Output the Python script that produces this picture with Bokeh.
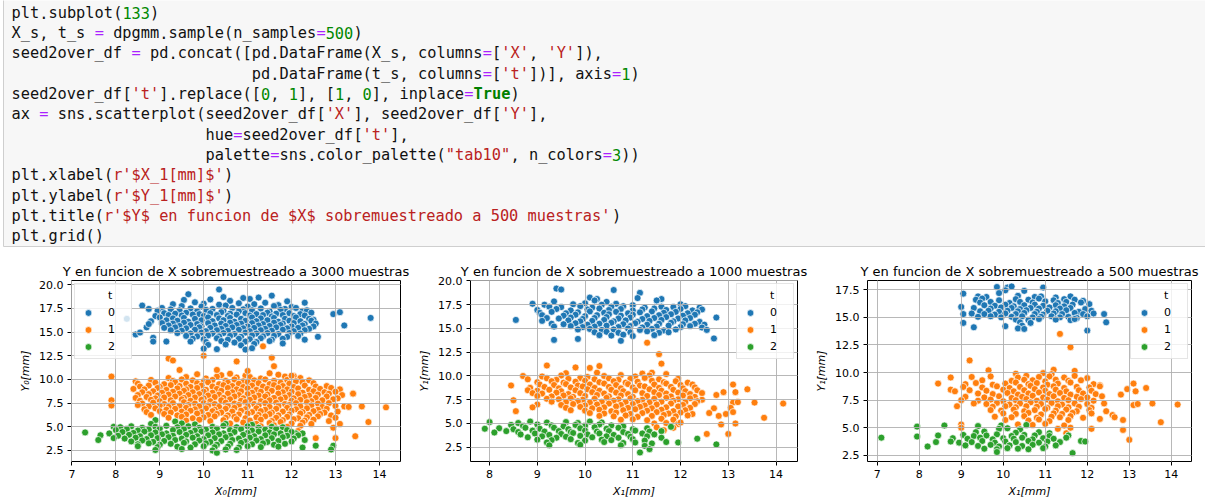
import re

from bokeh.core.properties import value
from bokeh.embed import file_html
from bokeh.layouts import column, row
from bokeh.models import (ColumnDataSource, FixedTicker, Legend, LegendItem,
                          PrintfTickFormatter, Range1d)
from bokeh.plotting import figure
from bokeh.resources import INLINE

# ---------------------------------------------------------------- notebook cell
CODE_LINES = [
    "plt.subplot(133)",
    "X_s, t_s = dpgmm.sample(n_samples=500)",
    "seed2over_df = pd.concat([pd.DataFrame(X_s, columns=['X', 'Y']),",
    "                          pd.DataFrame(t_s, columns=['t'])], axis=1)",
    "seed2over_df['t'].replace([0, 1], [1, 0], inplace=True)",
    "ax = sns.scatterplot(seed2over_df['X'], seed2over_df['Y'],",
    "                     hue=seed2over_df['t'],",
    "                     palette=sns.color_palette(\"tab10\", n_colors=3))",
    "plt.xlabel(r'$X_1[mm]$')",
    "plt.ylabel(r'$Y_1[mm]$')",
    "plt.title(r'$Y$ en funcion de $X$ sobremuestreado a 500 muestras')",
    "plt.grid()",
]

# ---------------------------------------------------------------- samples
CLASS_LABELS = ["0", "1", "2"]
PALETTE = ["#1f77b4", "#ff7f0e", "#2ca02c"]

TITLES = [
    "Y en funcion de X sobremuestreado a 3000 muestras",
    "Y en funcion de X sobremuestreado a 1000 muestras",
    "Y en funcion de X sobremuestreado a 500 muestras",
]
X_LABELS = ["X₀[mm]", "X₁[mm]", "X₁[mm]"]
Y_LABELS = ["Y₀[mm]", "Y₁[mm]", "Y₁[mm]"]
X_TICKS = [[7, 8, 9, 10, 11, 12, 13, 14],
           [8, 9, 10, 11, 12, 13, 14],
           [7, 8, 9, 10, 11, 12, 13, 14]]
Y_TICKS = [[2.5, 5.0, 7.5, 10.0, 12.5, 15.0, 17.5, 20.0],
           [2.5, 5.0, 7.5, 10.0, 12.5, 15.0, 17.5, 20.0],
           [2.5, 5.0, 7.5, 10.0, 12.5, 15.0, 17.5]]
X_LIMITS = [(6.99, 14.48), (7.6, 14.45), (6.77, 14.48)]
Y_LIMITS = [(1.33, 20.45), (1.0, 20.05), (1.94, 18.34)]

# 3000 samples: class 0
BLUE_3000 = [
    (10.35, 19.5), (9.65, 19.0), (11.55, 18.85), (10.45, 18.7), (10.9, 18.6), (11.25, 18.65),
    (9.55, 18.4), (10.15, 18.45), (11.05, 18.5), (11.9, 18.25), (9.8, 18.15), (10.6, 18.3),
    (11.4, 18.1), (12.3, 18.1), (9.3, 17.95), (10.0, 18.0), (10.35, 17.9), (10.8, 18.05),
    (11.15, 17.95), (11.7, 17.85), (8.6, 17.8), (9.5, 17.75), (9.95, 17.7), (10.5, 17.8),
    (11.0, 17.7), (11.6, 17.75), (12.0, 17.65), (8.75, 17.45), (9.05, 17.55), (9.25, 17.4),
    (9.7, 17.5), (10.2, 17.45), (10.65, 17.55), (10.9, 17.4), (11.3, 17.5), (11.85, 17.45),
    (12.1, 17.55), (8.95, 17.25), (9.45, 17.3), (9.85, 17.2), (10.05, 17.35), (10.45, 17.25),
    (10.8, 17.2), (11.1, 17.3), (11.5, 17.2), (11.75, 17.35), (12.25, 17.2), (12.35, 17.3),
    (9.1, 17.0), (9.35, 16.95), (9.6, 17.05), (9.9, 16.9), (10.15, 17.0), (10.4, 17.1),
    (10.6, 16.95), (10.95, 17.0), (11.2, 16.9), (11.45, 17.05), (11.65, 16.95), (11.95, 17.0),
    (12.2, 16.9), (12.45, 17.05), (8.9, 16.7), (9.2, 16.8), (9.5, 16.75), (9.75, 16.85),
    (10.0, 16.7), (10.3, 16.8), (10.55, 16.7), (10.75, 16.85), (11.05, 16.75), (11.35, 16.8),
    (11.55, 16.65), (11.8, 16.8), (12.05, 16.7), (12.3, 16.75), (8.25, 16.4), (9.0, 16.55),
    (9.3, 16.45), (9.55, 16.5), (9.8, 16.4), (10.1, 16.55), (10.35, 16.45), (10.6, 16.5),
    (10.85, 16.4), (11.1, 16.55), (11.3, 16.45), (11.6, 16.5), (11.85, 16.4), (12.1, 16.55),
    (12.4, 16.4), (12.5, 16.3), (8.8, 16.15), (9.15, 16.25), (9.4, 16.2), (9.65, 16.1),
    (9.95, 16.25), (10.2, 16.15), (10.45, 16.25), (10.7, 16.1), (10.95, 16.2), (11.2, 16.15),
    (11.45, 16.25), (11.7, 16.1), (11.95, 16.2), (12.2, 16.15), (12.45, 16.2), (9.05, 15.95),
    (9.3, 15.9), (9.55, 16.0), (9.85, 15.85), (10.1, 15.95), (10.4, 15.9), (10.6, 16.0),
    (10.85, 15.9), (11.1, 15.95), (11.35, 15.85), (11.6, 16.0), (11.8, 15.9), (12.05, 15.95),
    (12.3, 15.85), (12.55, 15.9), (8.7, 15.5), (8.75, 15.85), (9.2, 15.7), (9.45, 15.65),
    (9.7, 15.75), (9.95, 15.6), (10.25, 15.7), (10.5, 15.65), (10.75, 15.75), (11.0, 15.6),
    (11.25, 15.7), (11.5, 15.65), (11.75, 15.75), (12.0, 15.6), (12.25, 15.7), (12.5, 15.6),
    (9.1, 15.45), (9.35, 15.5), (9.6, 15.4), (9.9, 15.5), (10.15, 15.45), (10.4, 15.35),
    (10.65, 15.5), (10.9, 15.4), (11.15, 15.45), (11.4, 15.35), (11.65, 15.5), (11.9, 15.4),
    (12.15, 15.45), (12.4, 15.35), (9.25, 15.2), (9.5, 15.15), (9.8, 15.25), (10.05, 15.1),
    (10.3, 15.2), (10.55, 15.15), (10.8, 15.25), (11.05, 15.1), (11.3, 15.2), (11.55, 15.15),
    (11.8, 15.25), (12.05, 15.1), (12.3, 15.2), (8.45, 14.75), (8.55, 14.95), (9.4, 14.9),
    (9.7, 14.85), (9.95, 14.95), (10.2, 14.85), (10.45, 14.9), (10.7, 14.8), (10.95, 14.95),
    (11.2, 14.85), (11.45, 14.9), (11.7, 14.8), (11.95, 14.9), (12.2, 14.85), (9.6, 14.6),
    (9.85, 14.55), (10.1, 14.65), (10.35, 14.55), (10.6, 14.6), (10.85, 14.5), (11.1, 14.65),
    (11.35, 14.55), (11.6, 14.6), (11.9, 14.5), (12.15, 14.6), (12.6, 14.5), (8.85, 14.4),
    (9.75, 14.3), (10.0, 14.25), (10.3, 14.35), (10.55, 14.2), (10.8, 14.3), (11.05, 14.25),
    (11.3, 14.35), (11.55, 14.2), (11.8, 14.3), (8.85, 14.0), (9.15, 14.0), (9.7, 14.0),
    (10.05, 13.95), (10.4, 14.05), (10.7, 13.9), (10.95, 14.0), (11.2, 13.95), (11.5, 14.05),
    (12.3, 14.2), (10.1, 13.65), (10.5, 13.7), (10.85, 13.6), (11.15, 13.75), (11.8, 13.8),
    (10.0, 13.25), (10.3, 13.2), (10.95, 13.15), (11.1, 13.3), (12.95, 16.9), (13.1, 17.1),
    (13.2, 15.7), (13.8, 16.5),
]

# 3000 samples: class 1
ORANGE_3000 = [
    (9.85, 10.55), (10.4, 10.45), (10.6, 10.6), (10.95, 10.4), (11.5, 10.65), (11.7, 10.5),
    (12.05, 10.35), (9.2, 10.15), (9.6, 10.25), (10.05, 10.1), (10.3, 10.3), (10.75, 10.2),
    (11.05, 10.25), (11.3, 10.1), (11.85, 10.3), (12.2, 10.15), (8.45, 9.8), (8.8, 9.95),
    (9.3, 9.85), (9.5, 10.0), (9.75, 9.9), (10.0, 9.8), (10.2, 9.95), (10.5, 9.85),
    (10.7, 10.0), (10.9, 9.8), (11.15, 9.9), (11.4, 10.0), (11.6, 9.85), (11.9, 9.95),
    (12.1, 9.8), (12.4, 9.9), (8.5, 9.55), (8.9, 9.65), (9.1, 9.5), (9.35, 9.7),
    (9.6, 9.55), (9.85, 9.6), (10.1, 9.7), (10.35, 9.5), (10.55, 9.65), (10.8, 9.55),
    (11.0, 9.7), (11.25, 9.6), (11.5, 9.5), (11.75, 9.65), (11.95, 9.55), (12.25, 9.7),
    (12.5, 9.6), (8.55, 9.25), (8.75, 9.35), (9.0, 9.2), (9.25, 9.4), (9.45, 9.3),
    (9.7, 9.2), (9.95, 9.35), (10.2, 9.25), (10.45, 9.4), (10.65, 9.3), (10.9, 9.2),
    (11.1, 9.35), (11.35, 9.25), (11.6, 9.4), (11.8, 9.3), (12.05, 9.2), (12.3, 9.35),
    (12.55, 9.25), (12.8, 9.3), (8.4, 9.0), (8.65, 8.95), (8.95, 9.1), (9.15, 8.9),
    (9.4, 9.05), (9.6, 8.95), (9.85, 9.1), (10.05, 8.9), (10.3, 9.0), (10.55, 9.1),
    (10.75, 8.95), (11.0, 9.05), (11.2, 8.9), (11.45, 9.0), (11.7, 9.1), (11.9, 8.95),
    (12.15, 9.05), (12.4, 8.9), (12.65, 9.0), (12.9, 9.1), (13.1, 8.95), (8.6, 8.65),
    (8.85, 8.75), (9.05, 8.6), (9.3, 8.7), (9.55, 8.8), (9.75, 8.65), (10.0, 8.7),
    (10.2, 8.6), (10.4, 8.8), (10.65, 8.65), (10.85, 8.75), (11.1, 8.6), (11.3, 8.7),
    (11.55, 8.8), (11.8, 8.65), (12.0, 8.7), (12.25, 8.6), (12.5, 8.75), (12.75, 8.65),
    (13.0, 8.7), (13.4, 8.55), (8.5, 8.35), (8.75, 8.45), (8.95, 8.3), (9.2, 8.4),
    (9.45, 8.5), (9.65, 8.35), (9.9, 8.45), (10.1, 8.3), (10.35, 8.4), (10.55, 8.5),
    (10.8, 8.35), (11.0, 8.45), (11.25, 8.3), (11.45, 8.4), (11.7, 8.5), (11.95, 8.35),
    (12.15, 8.45), (12.4, 8.3), (12.6, 8.4), (12.85, 8.5), (13.15, 8.35), (8.45, 8.05),
    (8.7, 8.15), (8.9, 8.0), (9.1, 8.1), (9.35, 8.2), (9.55, 8.05), (9.8, 8.1),
    (10.0, 8.0), (10.25, 8.15), (10.45, 8.05), (10.7, 8.2), (10.9, 8.0), (11.15, 8.1),
    (11.4, 8.2), (11.6, 8.05), (11.85, 8.1), (12.05, 8.0), (12.3, 8.15), (12.55, 8.05),
    (12.8, 8.2), (13.05, 8.0), (7.9, 7.8), (8.55, 7.75), (8.8, 7.85), (9.0, 7.7),
    (9.25, 7.8), (9.5, 7.9), (9.7, 7.75), (9.95, 7.85), (10.15, 7.7), (10.4, 7.8),
    (10.6, 7.9), (10.85, 7.75), (11.05, 7.85), (11.3, 7.7), (11.5, 7.8), (11.75, 7.9),
    (12.0, 7.75), (12.2, 7.85), (12.45, 7.7), (12.7, 7.8), (12.95, 7.9), (8.6, 7.45),
    (8.85, 7.55), (9.1, 7.4), (9.3, 7.5), (9.55, 7.6), (9.8, 7.45), (10.0, 7.5),
    (10.25, 7.4), (10.5, 7.55), (10.7, 7.45), (10.95, 7.6), (11.15, 7.4), (11.4, 7.5),
    (11.65, 7.55), (11.85, 7.4), (12.1, 7.5), (12.35, 7.6), (12.6, 7.45), (12.85, 7.5),
    (7.9, 7.25), (8.5, 7.3), (8.75, 7.15), (9.0, 7.25), (9.2, 7.1), (9.45, 7.2),
    (9.65, 7.3), (9.9, 7.15), (10.1, 7.25), (10.35, 7.1), (10.55, 7.2), (10.8, 7.3),
    (11.0, 7.15), (11.25, 7.25), (11.5, 7.1), (11.7, 7.2), (11.95, 7.3), (12.2, 7.15),
    (12.45, 7.25), (12.7, 7.1), (13.0, 7.2), (13.2, 7.15), (13.3, 7.1), (13.6, 7.15),
    (14.15, 7.05), (8.65, 6.85), (8.9, 6.95), (9.15, 6.8), (9.35, 6.9), (9.6, 7.0),
    (9.8, 6.85), (10.05, 6.95), (10.25, 6.8), (10.5, 6.9), (10.7, 7.0), (10.95, 6.85),
    (11.2, 6.95), (11.4, 6.8), (11.65, 6.9), (11.9, 7.0), (12.1, 6.85), (12.35, 6.95),
    (12.6, 6.8), (12.8, 6.9), (8.7, 6.55), (9.0, 6.65), (9.25, 6.5), (9.5, 6.6),
    (9.7, 6.7), (9.95, 6.55), (10.2, 6.65), (10.4, 6.5), (10.65, 6.6), (10.85, 6.7),
    (11.1, 6.55), (11.3, 6.65), (11.55, 6.5), (11.8, 6.6), (12.0, 6.7), (12.25, 6.55),
    (12.5, 6.65), (12.75, 6.5), (13.05, 6.6), (8.8, 6.25), (9.1, 6.35), (9.4, 6.2),
    (9.6, 6.3), (9.85, 6.4), (10.1, 6.25), (10.3, 6.35), (10.55, 6.2), (10.8, 6.3),
    (11.0, 6.4), (11.25, 6.25), (11.5, 6.35), (11.7, 6.2), (11.95, 6.3), (12.2, 6.4),
    (12.4, 6.25), (12.65, 6.35), (12.9, 6.2), (9.2, 5.95), (9.5, 6.05), (9.75, 5.9),
    (10.0, 6.0), (10.25, 6.1), (10.5, 5.95), (10.7, 6.05), (10.95, 5.9), (11.2, 6.0),
    (11.4, 6.1), (11.65, 5.95), (11.9, 6.05), (12.15, 5.9), (12.35, 6.0), (12.6, 6.1),
    (13.0, 5.95), (9.6, 5.65), (9.9, 5.75), (10.15, 5.6), (10.45, 5.7), (10.75, 5.8),
    (11.05, 5.65), (11.3, 5.75), (11.55, 5.6), (11.8, 5.7), (12.05, 5.8), (12.3, 5.65),
    (12.5, 5.75), (12.85, 5.6), (10.6, 5.35), (10.9, 5.45), (11.2, 5.3), (11.5, 5.4),
    (11.75, 5.5), (12.0, 5.35), (12.25, 5.45), (12.45, 5.3), (13.1, 5.3), (13.75, 5.5),
    (11.3, 5.05), (11.6, 5.15), (11.9, 5.0), (12.2, 5.1), (12.95, 4.9), (11.85, 4.7),
    (12.15, 4.55), (7.9, 10.3), (9.2, 12.2), (9.3, 12.0), (10.0, 12.5), (10.75, 11.9),
    (11.55, 12.3), (11.6, 11.4), (11.35, 13.5), (9.45, 11.0), (10.3, 11.0), (11.0, 10.9),
    (12.0, 10.4), (12.55, 3.8), (13.0, 3.8), (13.45, 4.0), (13.4, 8.5),
]

# 3000 samples: class 2
GREEN_3000 = [
    (8.9, 5.7), (9.35, 5.55), (8.8, 5.3), (9.5, 5.35), (9.8, 5.25), (10.5, 5.3),
    (11.1, 5.2), (7.95, 5.0), (8.1, 4.95), (8.35, 5.05), (8.6, 4.9), (8.9, 5.0),
    (9.15, 5.1), (9.4, 4.95), (9.65, 5.05), (9.9, 4.9), (10.2, 5.0), (10.45, 5.1),
    (10.75, 4.95), (11.0, 5.05), (11.25, 4.9), (11.55, 5.0), (11.8, 4.95), (8.0, 4.65),
    (8.25, 4.75), (8.5, 4.6), (8.75, 4.7), (9.0, 4.8), (9.3, 4.65), (9.55, 4.75),
    (9.8, 4.6), (10.05, 4.7), (10.3, 4.8), (10.6, 4.65), (10.85, 4.75), (11.1, 4.6),
    (11.4, 4.7), (11.65, 4.8), (11.9, 4.65), (12.1, 4.3), (7.3, 4.4), (7.85, 4.3),
    (8.15, 4.45), (8.4, 4.35), (8.65, 4.5), (8.9, 4.4), (9.15, 4.3), (9.45, 4.45),
    (9.7, 4.35), (9.95, 4.5), (10.2, 4.4), (10.45, 4.3), (10.7, 4.45), (11.0, 4.35),
    (11.25, 4.5), (11.5, 4.4), (11.75, 4.3), (12.0, 4.45), (12.25, 4.3), (7.65, 4.1),
    (8.05, 4.05), (8.3, 4.15), (8.55, 4.0), (8.8, 4.1), (9.05, 4.2), (9.3, 4.05),
    (9.6, 4.15), (9.85, 4.0), (10.1, 4.1), (10.35, 4.2), (10.6, 4.05), (10.9, 4.15),
    (11.15, 4.0), (11.4, 4.1), (11.6, 4.2), (11.9, 4.05), (12.15, 4.1), (7.95, 3.8),
    (8.2, 3.75), (8.45, 3.85), (8.7, 3.7), (8.95, 3.8), (9.2, 3.9), (9.5, 3.75),
    (9.75, 3.85), (10.0, 3.7), (10.25, 3.8), (10.5, 3.9), (10.8, 3.75), (11.05, 3.85),
    (11.3, 3.7), (11.55, 3.8), (11.8, 3.9), (12.05, 3.75), (12.3, 3.6), (7.6, 3.6),
    (8.35, 3.45), (8.6, 3.55), (8.85, 3.4), (9.1, 3.5), (9.35, 3.6), (9.6, 3.45),
    (9.9, 3.55), (10.15, 3.4), (10.4, 3.5), (10.65, 3.6), (10.95, 3.45), (11.2, 3.55),
    (11.45, 3.4), (11.7, 3.5), (12.0, 3.45), (8.5, 3.15), (8.75, 3.25), (9.0, 3.1),
    (9.25, 3.2), (9.55, 3.3), (9.8, 3.15), (10.05, 3.25), (10.3, 3.1), (10.6, 3.2),
    (10.85, 3.3), (11.1, 3.15), (11.35, 3.25), (11.6, 3.1), (11.85, 3.2), (8.5, 2.95),
    (8.95, 2.85), (9.4, 2.9), (9.7, 2.8), (10.0, 2.95), (10.25, 2.85), (10.55, 2.9),
    (10.8, 2.8), (11.0, 2.95), (11.3, 2.85), (11.7, 2.9), (12.25, 2.8), (12.55, 3.0),
    (12.95, 3.0), (8.9, 2.55), (9.5, 2.65), (10.2, 2.5), (10.5, 2.6), (10.75, 2.55),
    (12.9, 2.6), (10.3, 2.25),
]

# 1000 samples: class 0
BLUE_1000 = [
    (9.4, 19.2), (9.5, 19.1), (10.6, 19.05), (11.15, 18.75), (10.1, 18.25), (10.25, 18.1),
    (11.1, 18.2), (11.6, 18.1), (9.35, 17.85), (10.2, 17.95), (10.45, 17.8), (11.5, 17.95),
    (8.9, 17.6), (9.15, 17.5), (9.75, 17.55), (10.0, 17.65), (10.35, 17.5), (10.65, 17.6),
    (11.0, 17.45), (12.0, 17.55), (9.25, 17.3), (9.5, 17.25), (9.9, 17.35), (10.15, 17.2),
    (10.55, 17.3), (10.8, 17.35), (11.25, 17.2), (11.6, 17.3), (11.85, 17.25), (12.1, 17.35),
    (12.4, 17.2), (9.0, 16.95), (9.4, 17.05), (9.7, 16.9), (10.05, 17.0), (10.3, 17.1),
    (10.5, 16.95), (10.75, 17.05), (11.0, 16.9), (11.2, 17.0), (11.45, 17.1), (11.7, 16.95),
    (12.0, 17.05), (12.25, 16.9), (12.45, 17.0), (9.05, 16.65), (9.3, 16.75), (9.6, 16.6),
    (9.85, 16.7), (10.1, 16.8), (10.4, 16.65), (10.65, 16.75), (10.9, 16.6), (11.15, 16.7),
    (11.4, 16.8), (11.65, 16.65), (11.9, 16.75), (12.15, 16.6), (12.35, 16.7), (9.1, 16.4),
    (9.55, 16.35), (9.8, 16.45), (10.0, 16.3), (10.25, 16.4), (10.5, 16.5), (10.75, 16.35),
    (11.0, 16.45), (11.3, 16.3), (11.55, 16.4), (11.8, 16.5), (12.05, 16.35), (12.3, 16.45),
    (9.2, 16.1), (9.45, 16.05), (9.7, 16.15), (9.95, 16.0), (10.2, 16.1), (10.45, 16.2),
    (10.7, 16.05), (10.95, 16.15), (11.2, 16.0), (11.45, 16.1), (11.7, 16.2), (11.95, 16.05),
    (12.2, 16.1), (12.75, 16.15), (8.55, 15.9), (9.1, 15.8), (9.65, 15.85), (9.9, 15.75),
    (10.15, 15.8), (10.4, 15.9), (10.6, 15.75), (10.85, 15.85), (11.1, 15.7), (11.35, 15.8),
    (11.6, 15.9), (11.85, 15.75), (12.1, 15.85), (12.4, 15.7), (9.3, 15.5), (9.55, 15.45),
    (9.8, 15.55), (10.05, 15.4), (10.3, 15.5), (10.55, 15.6), (10.8, 15.45), (11.05, 15.55),
    (11.3, 15.4), (11.55, 15.5), (11.8, 15.6), (12.05, 15.45), (12.3, 15.5), (12.5, 15.4),
    (9.35, 15.2), (9.7, 15.25), (9.95, 15.15), (10.2, 15.2), (10.45, 15.3), (10.7, 15.15),
    (10.95, 15.25), (11.2, 15.1), (11.5, 15.2), (11.75, 15.3), (12.0, 15.15), (12.2, 15.25),
    (12.45, 15.1), (9.85, 14.9), (10.1, 14.95), (10.35, 14.85), (10.6, 14.9), (10.9, 15.0),
    (11.15, 14.85), (11.4, 14.95), (11.65, 14.8), (11.9, 14.9), (12.55, 14.85), (10.2, 14.6),
    (10.45, 14.65), (10.7, 14.55), (10.95, 14.6), (11.3, 14.7), (11.55, 14.55), (11.75, 14.6),
    (10.3, 14.3), (10.55, 14.25), (10.8, 14.35), (11.0, 14.2), (11.45, 14.3), (9.35, 13.8),
    (9.85, 13.9), (10.75, 13.7), (12.7, 13.95),
]

# 1000 samples: class 1
ORANGE_1000 = [
    (9.2, 11.1), (9.8, 10.9), (10.1, 10.85), (10.3, 11.05), (11.6, 11.3), (9.6, 10.3),
    (10.25, 10.35), (11.2, 10.25), (11.4, 10.35), (11.7, 10.2), (8.7, 10.0), (9.1, 9.95),
    (9.5, 10.05), (10.05, 9.9), (10.4, 10.0), (10.75, 10.1), (11.05, 9.95), (11.35, 10.05),
    (8.8, 9.65), (9.2, 9.75), (9.4, 9.6), (9.65, 9.7), (9.9, 9.8), (10.2, 9.65),
    (10.5, 9.75), (10.7, 9.6), (10.95, 9.7), (11.25, 9.8), (11.55, 9.65), (11.95, 9.7),
    (9.0, 9.35), (9.3, 9.45), (9.55, 9.3), (9.8, 9.4), (10.0, 9.5), (10.3, 9.35),
    (10.6, 9.45), (10.85, 9.3), (11.1, 9.4), (11.4, 9.5), (11.65, 9.35), (11.9, 9.45),
    (12.15, 9.3), (8.45, 9.0), (9.05, 9.1), (9.35, 9.05), (9.6, 9.15), (9.85, 9.0),
    (10.1, 9.1), (10.4, 9.2), (10.65, 9.05), (10.9, 9.15), (11.15, 9.0), (11.45, 9.1),
    (11.7, 9.2), (12.0, 9.05), (12.25, 9.1), (13.1, 9.1), (8.85, 8.75), (9.15, 8.85),
    (9.45, 8.7), (9.7, 8.8), (9.95, 8.9), (10.2, 8.75), (10.5, 8.85), (10.75, 8.7),
    (11.0, 8.8), (11.25, 8.9), (11.55, 8.75), (11.8, 8.85), (12.05, 8.7), (12.3, 8.8),
    (8.8, 8.5), (9.0, 8.45), (9.25, 8.55), (9.5, 8.4), (9.8, 8.5), (10.05, 8.6),
    (10.3, 8.45), (10.55, 8.55), (10.8, 8.4), (11.05, 8.5), (11.35, 8.6), (11.6, 8.45),
    (11.85, 8.55), (12.1, 8.4), (12.35, 8.5), (12.9, 8.3), (13.4, 8.6), (8.9, 8.2),
    (9.1, 8.15), (9.4, 8.25), (9.65, 8.1), (9.9, 8.2), (10.15, 8.3), (10.4, 8.15),
    (10.65, 8.25), (10.9, 8.1), (11.2, 8.2), (11.45, 8.3), (11.7, 8.15), (11.95, 8.25),
    (12.2, 8.1), (12.45, 8.2), (13.15, 8.3), (9.0, 7.9), (9.3, 7.85), (9.55, 7.95),
    (9.75, 7.8), (10.0, 7.9), (10.25, 8.0), (10.5, 7.85), (10.75, 7.95), (11.0, 7.8),
    (11.3, 7.9), (11.55, 8.0), (11.8, 7.85), (12.05, 7.95), (12.3, 7.8), (12.75, 8.0),
    (9.2, 7.6), (9.45, 7.55), (9.7, 7.65), (9.95, 7.5), (10.2, 7.6), (10.45, 7.7),
    (10.7, 7.55), (10.95, 7.65), (11.2, 7.5), (11.45, 7.6), (11.7, 7.7), (11.95, 7.55),
    (12.2, 7.65), (12.45, 7.5), (8.5, 7.45), (9.3, 7.3), (9.6, 7.25), (9.85, 7.35),
    (10.1, 7.2), (10.35, 7.3), (10.6, 7.4), (10.85, 7.25), (11.1, 7.35), (11.35, 7.2),
    (11.6, 7.3), (11.85, 7.4), (12.1, 7.25), (12.35, 7.35), (13.1, 7.2), (13.2, 7.25),
    (13.55, 7.2), (9.0, 7.0), (9.5, 6.95), (9.75, 7.05), (10.0, 6.9), (10.25, 7.0),
    (10.5, 7.1), (10.75, 6.95), (11.0, 7.05), (11.25, 6.9), (11.5, 7.0), (11.8, 7.1),
    (12.05, 6.95), (12.3, 7.05), (14.15, 7.1), (8.9, 6.7), (9.6, 6.65), (9.9, 6.75),
    (10.15, 6.6), (10.4, 6.7), (10.65, 6.8), (10.9, 6.65), (11.15, 6.75), (11.4, 6.6),
    (11.7, 6.7), (11.95, 6.8), (12.2, 6.65), (12.7, 6.6), (13.05, 6.65), (9.7, 6.4),
    (10.0, 6.35), (10.3, 6.45), (10.55, 6.3), (10.8, 6.4), (11.05, 6.5), (11.3, 6.35),
    (11.6, 6.45), (11.85, 6.3), (12.1, 6.4), (12.6, 6.1), (8.55, 6.3), (10.1, 6.1),
    (10.4, 6.05), (10.65, 6.15), (10.95, 6.0), (11.2, 6.1), (11.5, 6.2), (11.75, 6.05),
    (12.0, 6.15), (12.25, 6.0), (12.95, 6.0), (13.1, 6.2), (10.3, 5.8), (10.6, 5.75),
    (10.85, 5.85), (11.1, 5.7), (11.4, 5.8), (11.65, 5.9), (11.9, 5.75), (12.15, 5.85),
    (12.8, 5.8), (13.75, 5.6), (10.75, 5.4), (11.0, 5.45), (11.3, 5.35), (11.6, 5.5),
    (11.85, 5.4), (11.45, 5.0), (11.7, 5.05), (11.95, 4.95), (12.0, 5.1), (12.85, 4.9),
    (13.15, 5.0), (11.5, 4.6), (11.85, 4.55), (11.65, 4.3), (12.55, 3.9), (13.0, 3.9),
    (11.3, 13.5), (11.55, 12.3),
]

# 1000 samples: class 2
GREEN_1000 = [
    (8.0, 5.15), (8.6, 5.05), (8.85, 5.2), (9.2, 5.1), (9.6, 5.15), (9.85, 5.05),
    (10.1, 5.2), (10.35, 5.1), (8.45, 4.85), (8.7, 4.75), (9.0, 4.9), (9.3, 4.8),
    (9.55, 4.7), (9.8, 4.85), (10.0, 4.75), (10.3, 4.9), (10.55, 4.8), (10.8, 4.7),
    (7.9, 4.45), (8.2, 4.5), (8.5, 4.4), (8.75, 4.55), (9.05, 4.45), (9.35, 4.55),
    (9.65, 4.4), (9.9, 4.5), (10.2, 4.6), (10.45, 4.45), (10.7, 4.55), (11.0, 4.4),
    (11.3, 4.5), (11.8, 4.65), (8.1, 4.05), (8.35, 4.2), (8.6, 4.1), (8.9, 4.25),
    (9.15, 4.15), (9.45, 4.2), (9.7, 4.1), (10.0, 4.25), (10.25, 4.15), (10.5, 4.2),
    (10.8, 4.1), (11.05, 4.25), (11.35, 4.15), (11.6, 4.2), (8.65, 3.85), (8.95, 3.95),
    (9.25, 3.8), (9.5, 3.9), (9.75, 4.0), (10.05, 3.85), (10.3, 3.95), (10.6, 3.8),
    (10.9, 3.9), (11.2, 3.95), (11.45, 3.85), (8.8, 3.55), (9.1, 3.65), (9.4, 3.5),
    (9.6, 3.6), (9.9, 3.7), (10.15, 3.55), (10.45, 3.65), (10.7, 3.5), (10.95, 3.6),
    (11.3, 3.65), (11.6, 3.5), (9.0, 3.3), (9.3, 3.25), (9.7, 3.35), (10.0, 3.2),
    (10.35, 3.3), (10.55, 3.25), (11.0, 3.35), (11.25, 3.2), (12.35, 3.4), (9.2, 3.0),
    (9.85, 2.95), (10.4, 3.05), (10.8, 2.95), (11.05, 3.0), (11.4, 2.9), (11.7, 3.05),
    (11.95, 3.0), (9.25, 2.7), (9.9, 2.75), (10.75, 2.7), (11.25, 2.65), (12.75, 2.8),
    (11.35, 2.3), (11.15, 1.95),
]

# 500 samples: class 0
BLUE_500 = [
    (9.85, 17.75), (10.1, 17.7), (10.2, 17.8), (10.95, 17.7), (10.05, 17.45), (10.5, 17.4),
    (9.05, 17.15), (9.9, 17.2), (9.4, 16.9), (9.6, 16.85), (10.35, 16.95), (10.75, 16.85),
    (10.9, 16.9), (11.25, 16.8), (11.6, 16.9), (9.35, 16.6), (9.5, 16.7), (9.9, 16.55),
    (10.3, 16.65), (10.6, 16.6), (10.85, 16.7), (11.2, 16.55), (11.45, 16.65), (11.7, 16.6),
    (11.9, 16.5), (9.45, 16.35), (9.7, 16.4), (10.15, 16.3), (10.4, 16.4), (10.7, 16.35),
    (11.0, 16.45), (11.3, 16.3), (11.5, 16.4), (11.85, 16.35), (9.55, 16.1), (9.8, 16.05),
    (10.05, 16.15), (10.25, 16.0), (10.5, 16.1), (10.75, 16.15), (10.95, 16.05), (11.25, 16.1),
    (11.45, 16.0), (11.65, 16.15), (12.05, 16.2), (9.0, 15.95), (9.3, 15.85), (9.7, 15.8),
    (9.95, 15.9), (10.2, 15.85), (10.4, 15.75), (10.65, 15.85), (10.85, 15.8), (11.1, 15.9),
    (11.35, 15.8), (11.6, 15.85), (11.95, 15.75), (9.45, 15.55), (9.65, 15.6), (9.9, 15.5),
    (10.1, 15.6), (10.35, 15.55), (10.55, 15.65), (10.8, 15.5), (11.05, 15.6), (11.25, 15.55),
    (11.5, 15.65), (11.8, 15.5), (12.1, 15.6), (9.05, 15.3), (9.25, 15.35), (9.55, 15.3),
    (9.8, 15.25), (10.05, 15.35), (10.3, 15.3), (10.5, 15.4), (10.75, 15.3), (10.95, 15.25),
    (11.2, 15.35), (11.4, 15.3), (11.7, 15.4), (11.9, 15.3), (12.15, 15.35), (12.4, 15.3),
    (9.4, 15.05), (9.7, 15.1), (9.95, 15.0), (10.2, 15.05), (10.45, 15.1), (10.7, 15.0),
    (10.9, 15.05), (11.15, 15.1), (11.35, 15.0), (11.55, 15.05), (11.75, 14.95), (12.0, 15.1),
    (10.3, 14.8), (10.6, 14.75), (10.85, 14.85), (11.25, 14.8), (11.6, 14.75), (11.7, 14.85),
    (9.05, 14.5), (10.4, 14.55), (10.65, 14.5), (12.45, 14.55), (9.3, 14.1), (10.05, 14.2),
    (10.45, 14.25), (10.35, 14.0), (10.5, 13.95), (12.0, 13.8),
]

# 500 samples: class 1
ORANGE_500 = [
    (9.65, 10.2), (11.2, 10.25), (11.7, 10.15), (10.3, 9.9), (10.95, 9.95), (11.15, 9.85),
    (8.75, 9.55), (9.25, 9.6), (9.7, 9.65), (10.35, 9.55), (10.55, 9.7), (10.85, 9.6),
    (11.1, 9.65), (11.45, 9.55), (11.7, 9.7), (12.0, 9.5), (9.5, 9.3), (10.2, 9.25),
    (10.5, 9.35), (10.7, 9.3), (11.0, 9.2), (11.25, 9.35), (11.55, 9.25), (11.85, 9.3),
    (8.45, 9.0), (9.1, 8.95), (9.35, 9.05), (9.75, 8.9), (10.05, 9.0), (10.3, 9.1),
    (10.6, 8.95), (10.8, 9.05), (11.05, 8.9), (11.3, 9.0), (11.6, 9.1), (12.15, 8.95),
    (12.3, 8.85), (13.1, 9.0), (9.05, 8.7), (9.5, 8.65), (9.85, 8.75), (10.15, 8.6),
    (10.4, 8.7), (10.65, 8.8), (10.95, 8.65), (11.2, 8.75), (11.45, 8.6), (11.75, 8.7),
    (12.05, 8.65), (12.3, 8.75), (8.75, 8.45), (8.85, 8.3), (9.2, 8.4), (9.6, 8.35),
    (10.0, 8.45), (10.25, 8.3), (10.5, 8.4), (10.75, 8.5), (11.0, 8.35), (11.25, 8.45),
    (11.5, 8.3), (11.8, 8.4), (12.1, 8.35), (12.95, 8.5), (13.15, 8.3), (13.4, 8.6),
    (9.4, 8.1), (9.75, 8.05), (10.1, 8.15), (10.35, 8.0), (10.6, 8.1), (10.85, 8.2),
    (11.1, 8.05), (11.35, 8.15), (11.6, 8.0), (11.9, 8.1), (12.2, 8.05), (12.8, 8.0),
    (9.1, 7.8), (9.55, 7.75), (9.9, 7.85), (10.2, 7.7), (10.45, 7.8), (10.7, 7.9),
    (10.95, 7.75), (11.2, 7.85), (11.45, 7.7), (11.75, 7.8), (12.0, 7.75), (12.35, 7.85),
    (9.0, 7.5), (9.4, 7.45), (9.7, 7.55), (10.0, 7.4), (10.3, 7.5), (10.55, 7.6),
    (10.8, 7.45), (11.05, 7.55), (11.3, 7.4), (11.55, 7.5), (11.85, 7.6), (12.15, 7.45),
    (9.3, 7.2), (9.6, 7.15), (9.85, 7.25), (10.15, 7.1), (10.4, 7.2), (10.65, 7.3),
    (10.9, 7.15), (11.15, 7.25), (11.4, 7.1), (11.7, 7.2), (12.0, 7.15), (12.4, 7.2),
    (13.1, 7.05), (13.2, 7.15), (13.55, 7.2), (14.15, 7.1), (8.9, 6.95), (9.75, 6.9),
    (10.05, 6.95), (10.3, 6.85), (10.55, 6.95), (10.8, 6.9), (11.05, 6.8), (11.3, 6.95),
    (11.55, 6.85), (11.8, 6.9), (12.1, 6.8), (9.7, 6.6), (9.95, 6.55), (10.25, 6.65),
    (10.5, 6.5), (10.75, 6.6), (11.0, 6.7), (11.25, 6.55), (11.5, 6.65), (11.75, 6.5),
    (12.05, 6.6), (12.45, 6.5), (10.0, 6.3), (10.3, 6.25), (10.6, 6.35), (10.9, 6.2),
    (11.2, 6.3), (11.4, 6.25), (11.65, 6.35), (12.1, 6.3), (12.6, 6.15), (9.8, 6.0),
    (10.2, 5.95), (10.5, 6.05), (10.8, 5.9), (11.15, 6.0), (11.35, 5.95), (11.6, 6.05),
    (11.9, 5.9), (12.3, 5.8), (12.65, 5.95), (10.05, 5.7), (10.6, 5.65), (10.85, 5.75),
    (11.1, 5.6), (11.55, 5.7), (12.85, 5.7), (9.0, 5.3), (10.35, 5.3), (10.7, 5.25),
    (11.0, 5.35), (11.45, 5.2), (13.75, 5.5), (9.0, 5.0), (11.3, 4.9), (11.6, 5.0),
    (12.1, 4.9), (12.85, 4.8), (11.5, 4.5), (13.0, 3.9), (11.35, 13.5), (11.6, 12.3),
    (9.2, 11.1),
]

# 500 samples: class 2
GREEN_500 = [
    (8.6, 5.2), (9.4, 5.15), (9.95, 5.2), (10.55, 5.25), (9.9, 4.9), (10.1, 4.95),
    (10.4, 4.85), (9.35, 4.6), (9.55, 4.65), (10.3, 4.55), (10.85, 4.6), (11.1, 4.5),
    (8.45, 4.3), (9.05, 4.35), (9.3, 4.25), (9.6, 4.3), (9.85, 4.4), (10.2, 4.25),
    (10.5, 4.35), (10.75, 4.3), (11.1, 4.25), (11.55, 4.3), (7.1, 4.1), (7.95, 4.2),
    (8.8, 4.05), (9.15, 4.0), (9.45, 4.1), (9.75, 3.95), (10.0, 4.05), (10.25, 4.0),
    (10.45, 4.1), (10.7, 3.95), (10.95, 4.05), (11.2, 4.0), (11.5, 4.1), (7.95, 5.1),
    (8.4, 3.7), (8.75, 3.75), (8.95, 3.65), (9.25, 3.7), (9.5, 3.8), (9.8, 3.65),
    (10.05, 3.75), (10.3, 3.7), (10.6, 3.8), (10.85, 3.65), (11.05, 3.75), (11.35, 3.7),
    (11.85, 3.8), (11.95, 3.75), (8.2, 3.3), (9.1, 3.4), (9.4, 3.35), (9.7, 3.45),
    (9.9, 3.3), (10.15, 3.4), (10.45, 3.35), (10.7, 3.45), (11.0, 3.3), (11.25, 3.4),
    (9.55, 3.1), (9.85, 3.05), (10.1, 3.15), (10.35, 3.1), (10.6, 3.05), (10.95, 3.15),
    (9.85, 2.8), (11.65, 2.7),
]

SAMPLES = [
    [BLUE_3000, ORANGE_3000, GREEN_3000],
    [BLUE_1000, ORANGE_1000, GREEN_1000],
    [BLUE_500, ORANGE_500, GREEN_500],
]
LEGEND_CORNERS = ["top_left", "top_right", "top_right"]

# ---------------------------------------------------------------- styling
TEXT_FONT = "DejaVu Sans"
CODE_FONT = "DejaVu Sans Mono"
CODE_SIZE = "15.3px"
CODE_ADVANCE = 9.24
CODE_LINE_H = 20.36
CODE_X0 = 11.0
CODE_Y0 = 12.0
MARKER_SIZE = 7.0

SYNTAX = {
    "str": ("#ba2121", "normal"),
    "kw": ("#008000", "bold"),
    "num": ("#008800", "normal"),
    "op": ("#aa22ff", "normal"),
    "name": ("#111111", "normal"),
    "other": ("#111111", "normal"),
}
TOKEN_RE = re.compile(
    r"(?P<str>r?'[^']*'|\"[^\"]*\")|(?P<kw>\bTrue\b|\bFalse\b|\bNone\b)"
    r"|(?P<num>\b\d+\b)|(?P<op>=)|(?P<name>[A-Za-z_]\w*)|(?P<other>\S)"
)


def code_cell():
    p = figure(width=1205, height=250, x_range=Range1d(0, 1205), y_range=Range1d(250, 0),
               output_backend="svg", toolbar_location=None, min_border=0)
    p.axis.visible = False
    p.grid.visible = False
    p.outline_line_color = None
    p.background_fill_color = "white"
    p.border_fill_color = "white"

    # cell box
    p.quad(left=[3], right=[1215], top=[-10], bottom=[246],
           fill_color="#f7f7f7", line_color="#cfcfcf", line_width=1)

    cols = {"normal": dict(x=[], y=[], text=[], color=[]),
            "bold": dict(x=[], y=[], text=[], color=[])}
    for i, line in enumerate(CODE_LINES):
        for m in TOKEN_RE.finditer(line):
            color, style = SYNTAX[m.lastgroup]
            d = cols[style]
            d["x"].append(CODE_X0 + m.start() * CODE_ADVANCE)
            d["y"].append(CODE_Y0 + i * CODE_LINE_H)
            d["text"].append(m.group())
            d["color"].append(color)
    for style, d in cols.items():
        p.text(x="x", y="y", text="text", text_color="color", source=ColumnDataSource(d),
               text_font=value(CODE_FONT), text_font_size=value(CODE_SIZE),
               text_font_style=style, text_baseline="middle", text_align="left")
    return p


def scatter_panel(k, width, left, right):
    p = figure(width=width, height=250, output_backend="svg", toolbar_location=None,
               x_range=Range1d(*X_LIMITS[k]), y_range=Range1d(*Y_LIMITS[k]),
               min_border_left=left, min_border_right=right,
               min_border_top=30, min_border_bottom=38, title=TITLES[k])
    p.background_fill_color = "white"
    p.border_fill_color = "white"
    p.outline_line_color = "#000000"
    p.outline_line_width = 1

    p.title.text_font = TEXT_FONT
    p.title.text_font_size = "13px"
    p.title.text_font_style = "normal"
    p.title.text_color = "#000000"
    p.title.align = "center"
    p.title.standoff = 4

    p.xaxis.ticker = FixedTicker(ticks=X_TICKS[k])
    p.yaxis.ticker = FixedTicker(ticks=Y_TICKS[k])
    p.xaxis.formatter = PrintfTickFormatter(format="%d")
    p.yaxis.formatter = PrintfTickFormatter(format="%.1f")
    p.xaxis.axis_label = X_LABELS[k]
    p.yaxis.axis_label = Y_LABELS[k]
    for ax in (p.xaxis, p.yaxis):
        ax.axis_line_color = None
        ax.major_tick_in = 0
        ax.major_tick_out = 4
        ax.major_tick_line_color = "#000000"
        ax.minor_tick_line_color = None
        ax.major_label_text_font = TEXT_FONT
        ax.major_label_text_font_size = "11px"
        ax.major_label_text_color = "#000000"
        ax.axis_label_text_font = TEXT_FONT
        ax.axis_label_text_font_size = "11px"
        ax.axis_label_text_font_style = "italic"
        ax.axis_label_text_color = "#000000"
    p.xaxis.major_label_standoff = 4
    p.yaxis.major_label_standoff = 4
    p.xaxis.axis_label_standoff = 4
    p.yaxis.axis_label_standoff = 4

    # grid drawn over the markers
    p.grid.grid_line_color = "#b0b0b0"
    p.grid.grid_line_width = 0.9
    p.grid.level = "guide"

    header = p.scatter(x=[], y=[], size=0, fill_alpha=0, line_alpha=0)
    items = [LegendItem(label="t", renderers=[header])]
    for pts, color, lab in zip(SAMPLES[k], PALETTE, CLASS_LABELS):
        r = p.scatter(x=[q[0] for q in pts], y=[q[1] for q in pts], size=MARKER_SIZE,
                      fill_color=color, line_color="white", line_width=0.7)
        items.append(LegendItem(label=lab, renderers=[r]))

    legend = Legend(items=items, location=LEGEND_CORNERS[k], margin=3, padding=3,
                    spacing=0, glyph_width=20, glyph_height=17, label_height=17,
                    label_standoff=10, label_text_font=TEXT_FONT,
                    label_text_font_size="11px", label_text_color="#000000",
                    border_line_color="#cccccc", border_line_width=1,
                    background_fill_color="white", background_fill_alpha=0.8)
    p.add_layout(legend)
    return p


panels = row(
    scatter_panel(0, 415, 71, 15),
    scatter_panel(1, 397, 52, 15),
    scatter_panel(2, 393, 50, 14),
)
page = column(code_cell(), panels)

with open("out.html", "w") as f:
    f.write(file_html(page, INLINE, title="sobremuestreo"))
